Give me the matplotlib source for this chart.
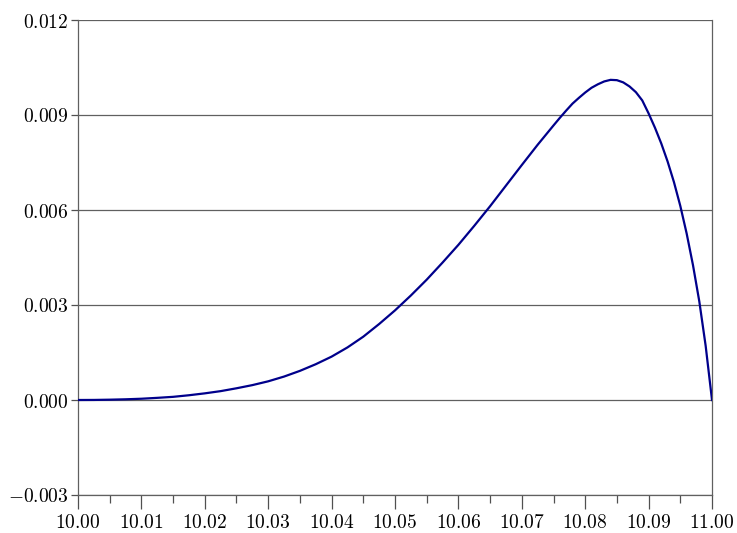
import matplotlib
matplotlib.use("Agg")
import matplotlib.pyplot as plt
from matplotlib.ticker import MultipleLocator

plt.rcParams["mathtext.fontset"] = "cm"

# curve values
x_vals = [10.0000, 10.0025, 10.0050, 10.0075, 10.0100, 10.0125, 10.0150,
          10.0175, 10.0200, 10.0225, 10.0250, 10.0275, 10.0300, 10.0325,
          10.0350, 10.0375, 10.0400, 10.0425, 10.0450, 10.0475, 10.0500,
          10.0525, 10.0550, 10.0575, 10.0600, 10.0625, 10.0650, 10.0675,
          10.0700, 10.0725, 10.075, 10.076, 10.077, 10.078, 10.079,
          10.080, 10.081, 10.082, 10.083, 10.084, 10.085, 10.086, 10.087,
          10.088, 10.089, 10.090, 10.091, 10.092, 10.093, 10.094, 10.095,
          10.096, 10.097, 10.098, 10.099, 10.100]
y_vals = [0.0, 0.000002, 0.00001, 0.000022, 0.00004, 0.000068, 0.00010,
          0.00015, 0.00021, 0.00028, 0.00037, 0.00047, 0.00059, 0.00074,
          0.00092, 0.00113, 0.00137, 0.00166, 0.00200, 0.00240, 0.00283,
          0.00330, 0.00380, 0.00434, 0.00490, 0.00550, 0.00612, 0.00677,
          0.00742, 0.00806, 0.00867, 0.00891, 0.00914, 0.00936, 0.00954,
          0.00971, 0.00986, 0.00997, 0.01006, 0.01011, 0.01010, 0.01003,
          0.00990, 0.00972, 0.00946, 0.00905, 0.00860, 0.00810, 0.00753,
          0.00688, 0.00613, 0.00526, 0.00426, 0.00311, 0.00171, 0.0]

x_ticks = [10.00, 10.01, 10.02, 10.03, 10.04, 10.05, 10.06, 10.07, 10.08, 10.09, 10.10]
x_tick_labels = ["10.00", "10.01", "10.02", "10.03", "10.04", "10.05",
                 "10.06", "10.07", "10.08", "10.09", "11.00"]
y_ticks = [-0.003, 0.000, 0.003, 0.006, 0.009, 0.012]
y_tick_labels = ["-0.003", "0.000", "0.003", "0.006", "0.009", "0.012"]

fig = plt.figure(figsize=(7.37, 5.33), dpi=100)
ax = fig.add_axes([78 / 737, 38 / 533, 634 / 737, 475 / 533])

ax.plot(x_vals, y_vals, color="#00008b", linewidth=1.6, zorder=3)

ax.set_xlim(10.0, 10.1)
ax.set_ylim(-0.003, 0.012)

ax.set_xticks(x_ticks)
ax.set_xticklabels(["$%s$" % s for s in x_tick_labels], fontsize=14)
ax.xaxis.set_minor_locator(MultipleLocator(0.005))
ax.set_yticks(y_ticks)
ax.set_yticklabels(["$%s$" % s for s in y_tick_labels], fontsize=14)

ax.grid(axis="y", color="#606060", linewidth=0.9)
ax.tick_params(axis="x", which="major", direction="out", length=10, width=0.9,
               color="#505050", pad=3)
ax.tick_params(axis="x", which="minor", direction="out", length=6, width=0.9,
               color="#505050")
ax.tick_params(axis="y", direction="out", length=5, width=0.9, color="#505050", pad=2)

for side in ["left", "right", "bottom", "top"]:
    ax.spines[side].set_color("#606060")
    ax.spines[side].set_linewidth(0.9)
ax.spines["top"].set_visible(False)

fig.savefig("out.png", dpi=100)
